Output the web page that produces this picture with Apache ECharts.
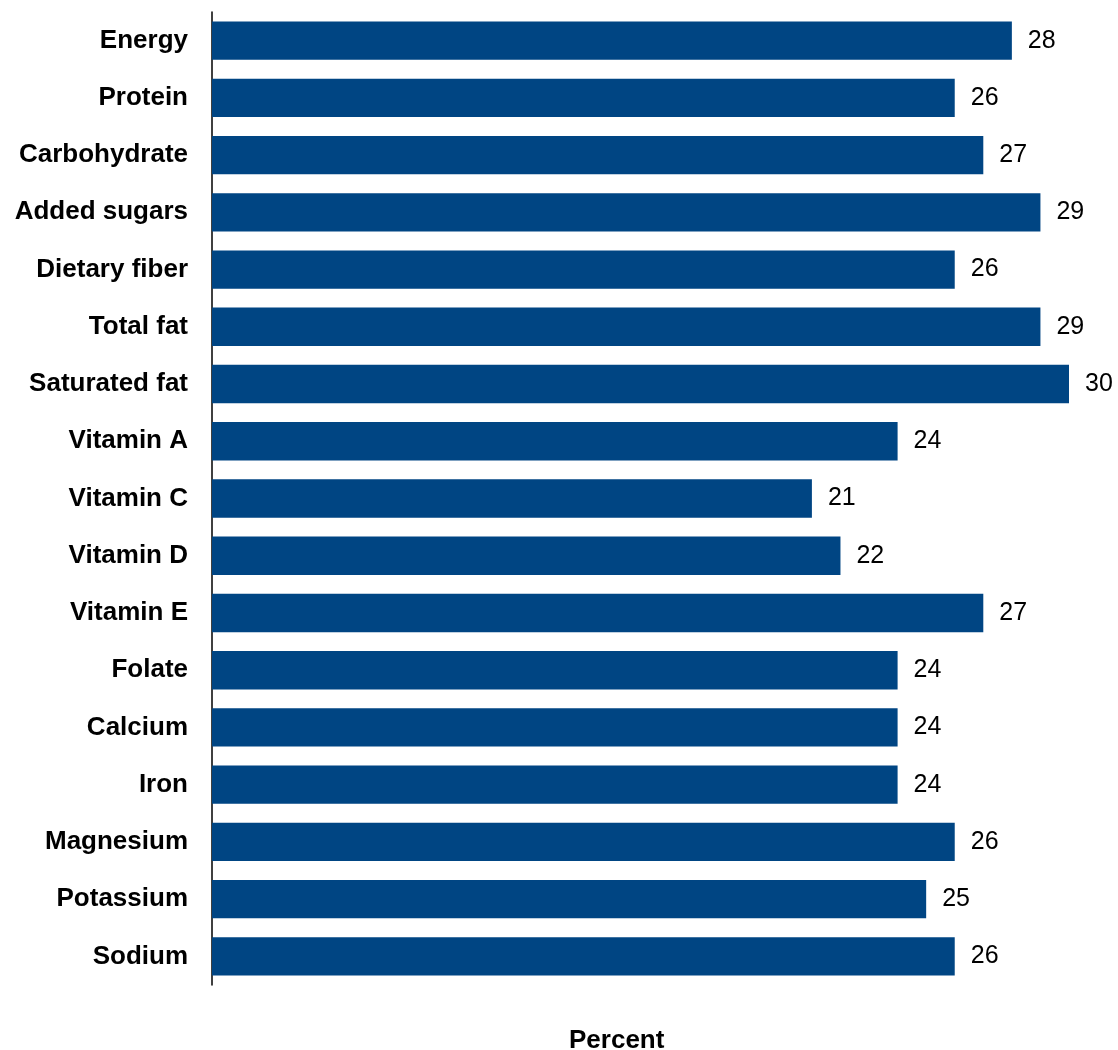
<!DOCTYPE html>
<html><head><meta charset="utf-8">
<script src="https://cdn.jsdelivr.net/npm/echarts@6/dist/echarts.min.js"></script>
<style>html,body{margin:0;padding:0;background:#fff}#c{width:1118px;height:1050px}</style>
</head><body><div id="c"></div>
<script>
const categories = ["Energy","Protein","Carbohydrate","Added sugars","Dietary fiber","Total fat","Saturated fat","Vitamin A","Vitamin C","Vitamin D","Vitamin E","Folate","Calcium","Iron","Magnesium","Potassium","Sodium"];
const values = [28,26,27,29,26,29,30,24,21,22,27,24,24,24,26,25,26];
const axisTitle = "Percent";
const chart = echarts.init(document.getElementById('c'));
chart.setOption({
  animation:false,
  grid:{left:212, top:12, width:857, height:973, containLabel:false},
  xAxis:{type:'value', min:0, max:30, show:false},
  yAxis:{type:'category', data:categories, inverse:true,
    axisLine:{show:true, lineStyle:{color:'#000', width:1.5}},
    axisTick:{show:false},
    axisLabel:{color:'#000', fontFamily:'Liberation Sans, Arial, sans-serif', fontWeight:'bold', fontSize:26, margin:24}
  },
  graphic:[{type:'text', left:569, top:1028, style:{text:axisTitle, fill:'#000', font:'bold 26px "Liberation Sans", Arial, sans-serif'}}],
  series:[{type:'bar', data:values, barCategoryGap:'33%', itemStyle:{color:'#004583'},
    label:{show:true, position:'right', distance:16, color:'#000', fontFamily:'Liberation Sans, Arial, sans-serif', fontSize:25}}]
});
</script></body></html>
